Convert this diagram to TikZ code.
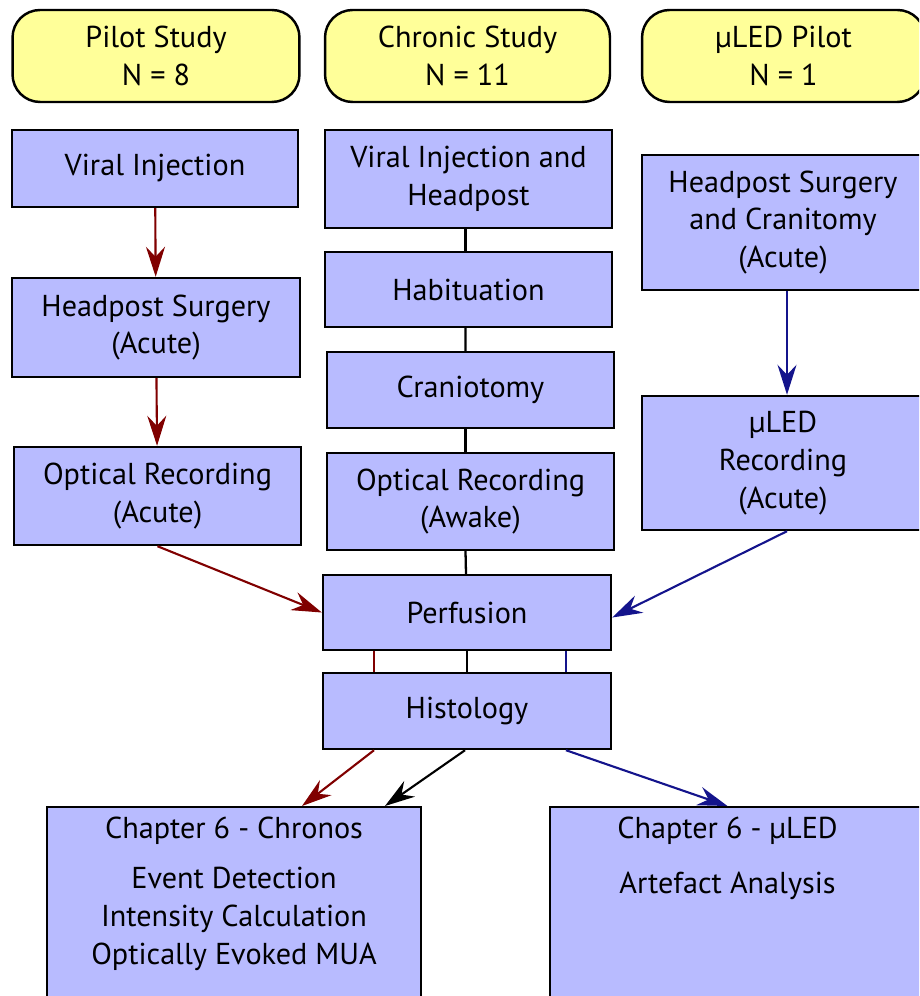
\documentclass[tikz,border=0pt]{standalone}
\usepackage{fontspec}
\setmainfont{PT Sans}
\usetikzlibrary{arrows.meta,positioning,calc}

\definecolor{stageblue}{RGB}{184,187,255}
\definecolor{studyyellow}{RGB}{255,255,153}
\definecolor{pilotred}{RGB}{128,0,0}
\definecolor{uledblue}{RGB}{20,20,140}

\tikzset{
	boxfont/.style={font=\fontsize{17.2}{21.5}\selectfont},
	study/.style={boxfont, shape=rectangle, draw=black, line width=1.4pt,
		fill=studyyellow, rounded corners=0.55cm, align=center,
		minimum width=5.74cm, minimum height=1.84cm, inner sep=0pt},
	stage/.style={boxfont, shape=rectangle, draw=black, line width=1.4pt,
		fill=stageblue, align=center, minimum width=5.74cm, inner sep=0pt},
	chapter/.style={shape=rectangle, draw=black, line width=1.4pt,
		fill=stageblue, minimum height=4.6cm, inner sep=0pt, anchor=north},
	flow/.style={line width=1.2pt,
		-{Stealth[length=0.6cm, width=0.38cm, inset=0.2cm]}},
	link/.style={line width=1.3pt}
}

\begin{document}
\begin{tikzpicture}[x=0.02cm, y=-0.02cm]
	\useasboundingbox (0,0) rectangle (919,996);
	\clip (0,0) rectangle (919,996);

	% study headers
	\node[study] (pilot) at (156,56) {Pilot Study\\N = 8};
	\node[study, minimum width=5.7cm] (chronic) at (467.5,56) {Chronic Study\\N = 11};
	\node[study, minimum width=5.66cm] (uled) at (783.5,56) {µLED Pilot\\N = 1};

	% pilot study column
	\node[stage, minimum width=5.72cm, minimum height=1.54cm] (viral) at (155,168.5) {Viral Injection};
	\node[stage, minimum width=5.76cm, minimum height=1.98cm] (headac) at (156,327.5) {Headpost Surgery\\(Acute)};
	\node[stage, minimum height=1.96cm] (optac) at (157.5,496) {Optical Recording\\(Acute)};

	% chronic study column
	\node[stage, minimum height=1.96cm] (viralhead) at (468.5,179) {Viral Injection and\\Headpost};
	\node[stage, minimum height=1.5cm] (habit) at (468.5,289.5) {Habituation};
	\node[stage, minimum height=1.52cm] (cranio) at (470.5,390) {Craniotomy};
	\node[stage, minimum height=1.94cm] (optaw) at (470.5,501.5) {Optical Recording\\(Awake)};

	% uLED pilot column
	\node[stage, minimum width=5.64cm, minimum height=2.7cm] (headcran) at (783,222.5) {Headpost Surgery\\and Cranitomy\\(Acute)};
	\node[stage, minimum width=5.64cm, minimum height=2.68cm] (uledrec) at (783,463) {µLED\\Recording\\(Acute)};

	% shared stages
	\node[stage, minimum width=5.76cm, minimum height=1.5cm] (perf) at (467,612.5) {Perfusion};
	\node[stage, minimum width=5.76cm, minimum height=1.52cm] (hist) at (467,711) {Histology};

	% chapters
	\node[chapter, minimum width=7.48cm] (chron) at (234,806) {};
	\node[chapter, minimum width=7.7cm] (uledch) at (742.5,806) {};
	\node[boxfont, align=center, anchor=north] (chrontxt) at ([yshift=-0.1cm]chron.north)
		{Chapter 6 - Chronos\\[0.24cm]Event Detection\\Intensity Calculation\\Optically Evoked MUA};
	\node[boxfont, align=center, anchor=north] (uledtxt) at ([xshift=-0.3cm, yshift=-0.1cm]uledch.north)
		{Chapter 6 - µLED\\[0.34cm]Artefact Analysis};

	% connectors
	\draw[flow, pilotred] (viral) -- (headac);
	\draw[flow, pilotred] (headac) -- (optac);
	\draw[flow, pilotred] (optac.south) -- (perf.west);

	\draw[link] ([xshift=-0.06cm]viralhead.south) -- ([xshift=-0.06cm]habit.north);
	\draw[link] ([xshift=-0.06cm]habit.south) -- ([xshift=-0.1cm]cranio.north);
	\draw[link] ([xshift=-0.1cm]cranio.south) -- ([xshift=-0.1cm]optaw.north);
	\draw[link] ([xshift=-0.1cm]optaw.south) -- ([xshift=-0.02cm]perf.north);

	\draw[flow, uledblue] ([xshift=0.08cm]headcran.south) -- ([xshift=0.08cm]uledrec.north);
	\draw[flow, uledblue] ([xshift=0.08cm]uledrec.south) -- ([yshift=-0.1cm]perf.east);

	\draw[link, pilotred] ([xshift=-1.86cm]perf.south) -- ([xshift=-1.86cm]hist.north);
	\draw[link] (perf) -- (hist);
	\draw[link, uledblue] ([xshift=1.98cm]perf.south) -- ([xshift=1.98cm]hist.north);

	\draw[flow, pilotred] ([xshift=-1.86cm]hist.south) -- ([xshift=1.36cm]chron.north);
	\draw[flow] ([xshift=-0.04cm]hist.south) -- ([xshift=3.02cm]chron.north);
	\draw[flow, uledblue] ([xshift=1.98cm]hist.south) -- ([xshift=-0.3cm]uledch.north);
\end{tikzpicture}
\end{document}
